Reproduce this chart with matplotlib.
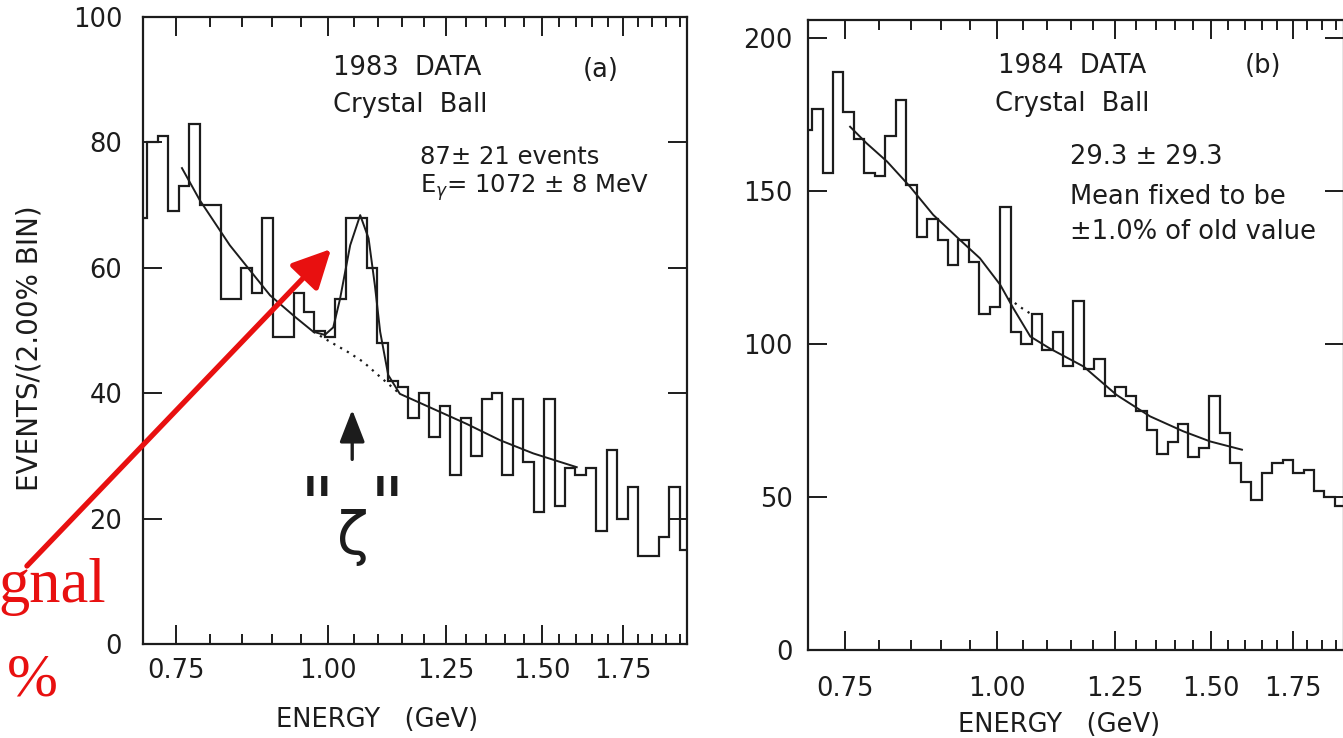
"""Crystal Ball inclusive photon spectra: 1983 data (a) vs 1984 data (b)."""

import matplotlib

matplotlib.use("Agg")

import matplotlib.pyplot as plt
import numpy as np
from matplotlib.patches import FancyArrowPatch
from matplotlib.ticker import FixedFormatter, FixedLocator, NullFormatter

FIG_W, FIG_H = 1343, 738
INK = "#1c1c1c"
RED = "#e81010"

BIN_RATIO = 1.02  # 2.00% bins

# ---- (a) 1983 data ----
A_FIRST_EDGE = 0.6961
A_COUNTS = [68, 80, 81, 69, 73, 83, 70, 70, 55, 55, 60, 56, 68, 49, 49, 56,
            53, 50, 49, 55, 68, 68, 60, 48, 42, 41, 36, 40, 33, 38, 27, 36,
            30, 39, 40, 27, 39, 29, 21, 39, 22, 28, 27, 28, 18, 31, 20, 25,
            14, 14, 17, 25, 15]
A_FIT_E = [0.758, 0.784, 0.830, 0.896, 0.939, 0.9725, 0.994, 1.010, 1.023,
           1.043, 1.063, 1.080, 1.093, 1.104, 1.121, 1.146, 1.221, 1.301,
           1.386, 1.476, 1.603]
A_FIT_N = [75.9, 70.8, 63.6, 55.6, 52.2, 49.8, 49.3, 50.5, 55.0, 63.6, 68.4,
           64.7, 57.2, 49.8, 42.9, 39.9, 37.5, 35.1, 32.5, 30.4, 28.2]
A_BKG_E = [0.9725, 1.004, 1.040, 1.069, 1.104, 1.146]
A_BKG_N = [49.8, 48.2, 46.5, 45.0, 42.6, 39.9]
A_SIGNAL_E = 1.047
A_SIGNAL_ARROW = (29.0, 37.8)

# ---- (b) 1984 data ----
B_FIRST_EDGE = 0.6906
B_COUNTS = [170, 177, 156, 189, 176, 167, 156, 155, 168, 180, 152, 135, 141,
            134, 126, 134, 127, 110, 112, 145, 104, 100, 110, 98, 104, 93,
            114, 92, 95, 83, 86, 83, 78, 72, 64, 68, 74, 63, 66, 83, 71, 61,
            55, 49, 58, 61, 62, 58, 59, 52, 50, 47]
B_FIT_E = [0.757, 0.781, 0.812, 0.848, 0.886, 0.932, 0.968, 1.006, 1.031,
           1.065, 1.106, 1.178, 1.254, 1.336, 1.423, 1.497, 1.590]
B_FIT_N = [171.1, 165.7, 159.7, 151.5, 142.3, 134.1, 128.1, 119.4, 111.8,
           102.5, 98.5, 92.7, 83.4, 76.4, 71.5, 68.2, 65.5]
B_BKG_E = [1.022, 1.046, 1.070]
B_BKG_N = [115.0, 112.0, 109.5]

X_MAJOR = [0.75, 1.00, 1.25, 1.50, 1.75]
X_MAJOR_LABELS = ["0.75", "1.00", "1.25", "1.50", "1.75"]
X_MINOR = [0.80, 0.85, 0.90, 0.95, 1.05, 1.10, 1.15, 1.20, 1.30, 1.35,
           1.40, 1.45, 1.55, 1.60, 1.65, 1.70, 1.80, 1.85, 1.90, 1.95]
A_YTICKS = [0, 20, 40, 60, 80, 100]
B_YTICKS = [0, 50, 100, 150, 200]


def fig_box(left, top, right, bottom):
    """Axes rectangle from pixel edges of the reference image."""
    return [left / FIG_W, 1 - bottom / FIG_H,
            (right - left) / FIG_W, (bottom - top) / FIG_H]


def fig_xy(px, py):
    return px / FIG_W, 1 - py / FIG_H


def style_axes(ax, xlim, ylim, yticks, xpad, ypad):
    ax.set_xscale("log")
    ax.set_xlim(*xlim)
    ax.set_ylim(*ylim)
    ax.xaxis.set_major_locator(FixedLocator(X_MAJOR))
    ax.xaxis.set_major_formatter(FixedFormatter(X_MAJOR_LABELS))
    ax.xaxis.set_minor_locator(FixedLocator(X_MINOR))
    ax.xaxis.set_minor_formatter(NullFormatter())
    ax.set_yticks(yticks)
    ax.set_yticklabels([str(v) for v in yticks])
    ax.tick_params(which="both", direction="in", top=True, right=True,
                   colors=INK, width=1.4, labelsize=18.5)
    ax.tick_params(which="major", length=14)
    ax.tick_params(which="minor", length=7)
    ax.tick_params(axis="x", pad=xpad)
    ax.tick_params(axis="y", pad=ypad)
    for spine in ax.spines.values():
        spine.set_linewidth(1.6)
        spine.set_color(INK)


def bin_edges(first_edge, n_bins):
    return first_edge * BIN_RATIO ** np.arange(n_bins + 1)


plt.rcParams["font.family"] = ["DejaVu Sans"]
fig = plt.figure(figsize=(FIG_W / 100, FIG_H / 100), dpi=100)

# ---------------- panel (a) ----------------
ax_a = fig.add_axes(fig_box(143, 17, 687, 644))
style_axes(ax_a, (0.704, 1.976), (0, 100), A_YTICKS, xpad=10, ypad=15)
ax_a.stairs(A_COUNTS, bin_edges(A_FIRST_EDGE, len(A_COUNTS)),
            baseline=None, color=INK, lw=1.6)
ax_a.plot(A_FIT_E, A_FIT_N, color=INK, lw=1.4)
ax_a.plot(A_BKG_E, A_BKG_N, color=INK, lw=1.6, ls=(0, (1, 2.5)))
ax_a.annotate("", xy=(A_SIGNAL_E, A_SIGNAL_ARROW[1]),
              xytext=(A_SIGNAL_E, A_SIGNAL_ARROW[0]),
              arrowprops=dict(arrowstyle="-|>,head_length=0.9,head_width=0.35",
                              color=INK, lw=2.4, mutation_scale=22))

fig.text(*fig_xy(333, 68), "1983  DATA", fontsize=18.5, color=INK, va="center")
fig.text(*fig_xy(583, 70), "(a)", fontsize=18.5, color=INK, va="center")
fig.text(*fig_xy(333, 105), "Crystal  Ball", fontsize=18.5, color=INK,
         va="center")
fig.text(*fig_xy(420, 157), "87± 21 events", fontsize=17.5, color=INK,
         va="center")
fig.text(*fig_xy(420, 188), r"E$_{\gamma}$= 1072 ± 8 MeV", fontsize=17.5,
         color=INK, va="center")
fig.text(*fig_xy(317, 510), '"', fontsize=54, color=INK, ha="center",
         va="center")
fig.text(*fig_xy(387, 510), '"', fontsize=54, color=INK, ha="center",
         va="center")
fig.text(*fig_xy(353, 538), "ζ", fontsize=42, color=INK, ha="center",
         va="center")

fig.text(*fig_xy(30, 348), "EVENTS/(2.00% BIN)", fontsize=20, color=INK,
         rotation=90, ha="center", va="center")
fig.text(*fig_xy(377, 720), "ENERGY   (GeV)", fontsize=18.5, color=INK,
         ha="center", va="center")

# ---------------- panel (b) ----------------
ax_b = fig.add_axes(fig_box(808, 20, 1344, 650))
style_axes(ax_b, (0.699, 1.929), (0, 206), B_YTICKS, xpad=19, ypad=11)
ax_b.stairs(B_COUNTS, bin_edges(B_FIRST_EDGE, len(B_COUNTS)),
            baseline=None, color=INK, lw=1.6)
ax_b.plot(B_FIT_E, B_FIT_N, color=INK, lw=1.4)
ax_b.plot(B_BKG_E, B_BKG_N, color=INK, lw=1.6, ls=(0, (1, 2.5)))

fig.text(*fig_xy(998, 66), "1984  DATA", fontsize=18.5, color=INK, va="center")
fig.text(*fig_xy(1245, 66), "(b)", fontsize=18.5, color=INK, va="center")
fig.text(*fig_xy(995, 104), "Crystal  Ball", fontsize=18.5, color=INK,
         va="center")
fig.text(*fig_xy(1070, 157), "29.3 ± 29.3", fontsize=18.5, color=INK,
         va="center")
fig.text(*fig_xy(1070, 197), "Mean fixed to be", fontsize=18.5, color=INK,
         va="center")
fig.text(*fig_xy(1070, 232), "±1.0% of old value", fontsize=18.5, color=INK,
         va="center")
fig.text(*fig_xy(1059, 725), "ENERGY   (GeV)", fontsize=18.5, color=INK,
         ha="center", va="center")

# ---------------- red slide overlay ----------------
arrow = FancyArrowPatch(fig_xy(25, 568), fig_xy(333, 247),
                        transform=fig.transFigure,
                        arrowstyle="-|>,head_length=0.9,head_width=0.45",
                        mutation_scale=26, color=RED, lw=3.8)
fig.add_artist(arrow)
fig.text(*fig_xy(-2, 602), "gnal", fontsize=45, color=RED,
         family=["Liberation Serif", "DejaVu Serif"], va="baseline")
fig.text(*fig_xy(7, 696), "%", fontsize=44, color=RED,
         family=["Liberation Serif", "DejaVu Serif"], va="baseline")

fig.savefig("out.png", dpi=100)
